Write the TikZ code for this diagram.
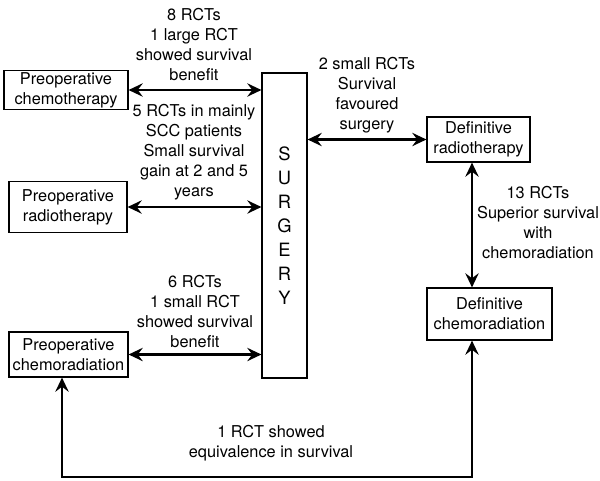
\documentclass[tikz,border=0pt]{standalone}
\usepackage{fontspec}
\setmainfont{TeX Gyre Heros}
\usetikzlibrary{arrows.meta}

\begin{document}
\begin{tikzpicture}[x=0.6pt, y=-0.6pt,
	every node/.style={font=\fontsize{9.8}{12}\selectfont, align=center},
	box/.style={draw, line width=0.7pt, inner sep=1pt},
	link/.style={{Stealth[length=8.5pt,width=8pt,inset=3pt]}-{Stealth[length=8.5pt,width=8pt,inset=3pt]}, line width=1.3pt}
]
\useasboundingbox (0,0) rectangle (600,480);

% treatment boxes
\node[box, minimum width=74.4pt, minimum height=22.8pt] (prechemo) at (66, 90) {Preoperative\\chemotherapy};
\node[box, minimum width=70.8pt, minimum height=30.6pt] (preradio) at (68, 207) {Preoperative\\radiotherapy};
\node[box, minimum width=71.4pt, minimum height=27pt] (prechemorad) at (68.5, 354.5) {Preoperative\\chemoradiation};
\node[box, minimum width=27pt, minimum height=183pt, font=\fontsize{11}{14.4}\selectfont] (surgery) at (284.5, 225.5) {S\\U\\R\\G\\E\\R\\Y};
\node[box, minimum width=61.8pt, minimum height=27pt] (defradio) at (478.5, 139.5) {Definitive\\radiotherapy};
\node[box, minimum width=75pt, minimum height=31.2pt] (defchemorad) at (489.5, 314) {Definitive\\chemoradiation};

\coordinate (corner) at (62, 477);
\coordinate (riser) at (472, 477);

% comparisons
\draw[link] (prechemo.east) -- (surgery.west |- prechemo.east);
\draw[link] (preradio.east) -- (surgery.west |- preradio.east);
\draw[link] (prechemorad.east) -- (surgery.west |- prechemorad.east);
\draw[link] (surgery.east |- defradio.west) -- (defradio.west);
\draw[link] (riser |- defradio.south) -- (riser |- defchemorad.north);
\draw[link] (corner |- prechemorad.south) -- (corner) -- (riser) -- (riser |- defchemorad.south);

% evidence
\node (lchemo) at (194, 45) {8 RCTs\\1 large RCT\\showed survival\\benefit};
\node (lradio) at (194, 152.5) {5 RCTs in mainly\\SCC patients\\Small survival\\gain at 2 and 5\\years};
\node (lchemorad) at (195, 312) {6 RCTs\\1 small RCT\\showed survival\\benefit};
\node (lsurg) at (367, 95.5) {2 small RCTs\\Survival\\favoured\\surgery};
\node (ldef) at (538, 223) {13 RCTs\\Superior survival\\with\\chemoradiation};
\node (lequiv) at (271, 443) {1 RCT showed\\equivalence in survival};

\end{tikzpicture}
\end{document}
